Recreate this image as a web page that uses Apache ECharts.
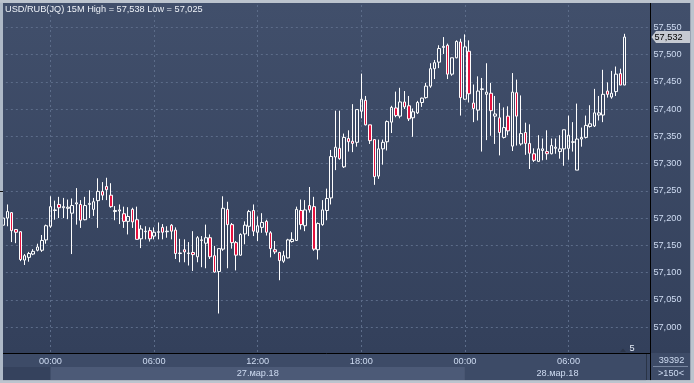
<!DOCTYPE html>
<html><head><meta charset="utf-8">
<script src="https://cdn.jsdelivr.net/npm/echarts@6/dist/echarts.min.js"></script>
<style>html,body{margin:0;padding:0;background:#b6bec9;overflow:hidden}#c{width:694px;height:383px}</style>
</head><body><div id="c"></div>
<script>
const symbolName = 'USD/RUB(JQ) 15M';
const opens = [57.187,57.200,57.210,57.179,57.175,57.123,57.128,57.134,57.141,57.141,57.160,57.185,57.214,57.225,57.219,57.218,57.209,57.226,57.225,57.197,
57.225,57.216,57.232,57.249,57.258,57.242,57.212,57.213,57.208,57.194,57.216,57.197,57.162,57.175,57.177,57.167,57.174,57.183,57.175,57.187,
57.178,57.135,57.142,57.135,57.137,57.129,57.159,57.154,57.164,57.131,57.102,57.143,57.216,57.188,57.155,57.132,57.171,57.185,57.214,57.174,
57.183,57.194,57.173,57.142,57.137,57.121,57.127,57.157,57.159,57.214,57.186,57.223,57.221,57.142,57.188,57.214,57.237,57.312,57.328,57.294,
57.346,57.341,57.339,57.396,57.416,57.371,57.344,57.277,57.327,57.340,57.376,57.402,57.387,57.413,57.406,57.384,57.393,57.412,57.421,57.442,
57.474,57.486,57.513,57.517,57.464,57.494,57.523,57.418,57.506,57.411,57.398,57.436,57.427,57.429,57.387,57.384,57.348,57.387,57.332,57.430,
57.336,57.357,57.337,57.318,57.304,57.324,57.322,57.318,57.328,57.322,57.327,57.328,57.339,57.288,57.345,57.348,57.368,57.369,57.389,57.389,
57.433,57.422,57.432,57.465,57.444];
const closes = [57.200,57.212,57.177,57.174,57.124,57.131,57.135,57.139,57.147,57.159,57.186,57.221,57.215,57.219,57.221,57.220,57.223,57.228,57.196,57.223,
57.227,57.230,57.249,57.242,57.252,57.221,57.214,57.215,57.194,57.203,57.193,57.161,57.180,57.176,57.162,57.174,57.175,57.174,57.176,57.176,
57.135,57.136,57.138,57.136,57.133,57.164,57.160,57.164,57.129,57.101,57.144,57.218,57.188,57.155,57.132,57.170,57.187,57.212,57.176,57.186,
57.192,57.174,57.144,57.138,57.122,57.131,57.160,57.161,57.216,57.188,57.215,57.215,57.143,57.190,57.215,57.236,57.313,57.330,57.309,57.348,
57.340,57.337,57.399,57.418,57.371,57.342,57.276,57.327,57.339,57.377,57.403,57.388,57.413,57.404,57.382,57.395,57.412,57.420,57.442,57.474,
57.485,57.511,57.515,57.464,57.494,57.524,57.421,57.514,57.428,57.401,57.433,57.437,57.431,57.397,57.391,57.357,57.366,57.360,57.431,57.387,
57.355,57.337,57.319,57.306,57.327,57.327,57.318,57.333,57.330,57.327,57.362,57.352,57.340,57.345,57.348,57.370,57.373,57.393,57.393,57.427,
57.427,57.429,57.464,57.444,57.532];
const lows = [57.177,57.185,57.156,57.154,57.121,57.114,57.120,57.132,57.139,57.138,57.153,57.182,57.197,57.200,57.200,57.198,57.134,57.188,57.182,57.196,
57.200,57.204,57.182,57.233,57.233,57.219,57.196,57.189,57.182,57.170,57.182,57.161,57.145,57.161,57.157,57.161,57.161,57.161,57.164,57.161,
57.125,57.119,57.119,57.113,57.103,57.119,57.110,57.108,57.125,57.100,57.025,57.140,57.108,57.144,57.104,57.131,57.152,57.167,57.167,57.158,
57.173,57.168,57.128,57.134,57.086,57.118,57.126,57.155,57.158,57.179,57.176,57.210,57.140,57.124,57.186,57.196,57.225,57.288,57.307,57.292,
57.322,57.321,57.331,57.383,57.370,57.336,57.261,57.272,57.298,57.324,57.356,57.385,57.383,57.400,57.378,57.349,57.391,57.404,57.419,57.439,
57.455,57.475,57.501,57.455,57.461,57.493,57.388,57.417,57.412,57.376,57.379,57.322,57.343,57.351,57.336,57.315,57.346,57.352,57.323,57.333,
57.333,57.316,57.290,57.303,57.304,57.306,57.307,57.317,57.318,57.309,57.296,57.307,57.322,57.288,57.331,57.346,57.366,57.367,57.379,57.376,
57.421,57.419,57.424,57.444,57.444];
const highs = [57.203,57.225,57.211,57.179,57.176,57.134,57.138,57.143,57.153,57.169,57.188,57.240,57.232,57.239,57.237,57.234,57.236,57.255,57.233,57.239,
57.251,57.237,57.273,57.266,57.274,57.264,57.222,57.225,57.221,57.220,57.219,57.221,57.187,57.185,57.183,57.183,57.192,57.189,57.185,57.189,
57.183,57.162,57.161,57.156,57.176,57.167,57.167,57.188,57.170,57.149,57.144,57.240,57.230,57.191,57.158,57.172,57.194,57.215,57.225,57.203,
57.209,57.197,57.176,57.158,57.138,57.140,57.162,57.174,57.221,57.234,57.233,57.257,57.239,57.192,57.233,57.254,57.325,57.397,57.397,57.355,
57.361,57.409,57.399,57.465,57.424,57.371,57.344,57.344,57.344,57.379,57.406,57.432,57.439,57.433,57.424,57.401,57.415,57.421,57.448,57.484,
57.490,57.517,57.532,57.520,57.494,57.526,57.529,57.537,57.526,57.445,57.460,57.457,57.484,57.448,57.424,57.411,57.403,57.405,57.466,57.454,
57.425,57.375,57.372,57.328,57.352,57.346,57.361,57.346,57.346,57.352,57.362,57.388,57.376,57.410,57.366,57.388,57.407,57.437,57.424,57.472,
57.449,57.470,57.478,57.474,57.538];
// time axis: 15-minute bars, first slot 26.03 21:15, 150 slots shown
const firstSlotMinutes = 21 * 60 + 15;
const firstSlotDay = 26;
const slotCount = 150;
const barMinutes = 15;
const timeLabels = ['00:00', '06:00', '12:00', '18:00'];
const dayLabels = ['27.мар.18', '28.мар.18'];
const dayStartSlot = [11, 107];
const yMin = 56.95, yMax = 57.60, yStep = 0.05;
const volumeText = '39392';
const barsText = '>150<';
const scaleText = '5';

const pad = n => (n < 10 ? '0' : '') + n;
const categories = [];
for (let i = 0; i < slotCount; i++) {
  const m = firstSlotMinutes + barMinutes * i;
  const d = firstSlotDay + Math.floor(m / 1440);
  const mm = m % 1440;
  categories.push(d + '.03 ' + pad(Math.floor(mm / 60)) + ':' + pad(mm % 60));
}
const candleData = opens.map((o, i) => [o, closes[i], lows[i], highs[i]]);
const fmt = v => v.toFixed(3).replace('.', ',');
const FONT = "'Liberation Sans', Arial, sans-serif";
const FS = 9.2;
const labelColor = '#cfdcf2';
const isTimeLabel = (idx, val) => timeLabels.indexOf(String(val).slice(-5)) >= 0;

const chart = echarts.init(document.getElementById('c'), null, {renderer: 'canvas', width: 694, height: 383});
chart.setOption({
  animation: false,
  grid: {left: 0.84, right: 45.6, top: -8.2, bottom: 28.6, containLabel: false},
  xAxis: [{
    type: 'category', data: categories, boundaryGap: true,
    axisLine: {show: false}, axisTick: {show: false}, axisLabel: {show: false},
    splitLine: {show: true, interval: isTimeLabel, alignWithLabel: true,
      lineStyle: {color: '#5c6c89', type: [2, 3], width: 1}}
  }, {
    type: 'category', data: categories, boundaryGap: true, position: 'bottom', z: 10,
    axisLine: {show: false}, axisTick: {show: false}, splitLine: {show: false},
    axisLabel: {show: true, interval: isTimeLabel, margin: 2.5, color: labelColor,
      fontSize: FS, fontFamily: FONT, formatter: v => v.slice(-5)}
  }],
  yAxis: {
    type: 'value', position: 'right', min: yMin, max: yMax, interval: yStep,
    axisLine: {show: false}, axisTick: {show: false},
    axisLabel: {margin: 5, color: labelColor, fontSize: FS, fontFamily: FONT,
      showMinLabel: false, showMaxLabel: false, formatter: v => fmt(v)},
    splitLine: {show: true, lineStyle: {color: '#5c6c89', type: [2, 3], width: 1}}
  },
  series: [{
    type: 'candlestick', xAxisIndex: 0, yAxisIndex: 0, data: candleData, barWidth: 3,
    itemStyle: {color: 'rgba(0,0,0,0)', color0: '#e5113e', borderColor: '#ffffff',
      borderColor0: '#ffffff', borderColorDoji: '#ffffff', borderWidth: 1},
    emphasis: {disabled: true}, silent: true
  }]
});

const px = i => chart.convertToPixel({xAxisIndex: 0}, i);
const py = v => chart.convertToPixel({yAxisIndex: 0}, v);
const bgGrad = {type: 'linear', x: 0, y: 0, x2: 0, y2: 1, global: false,
  colorStops: [{offset: 0, color: '#414f6b'}, {offset: 1, color: '#33405b'}]};
const hi = Math.max.apply(null, highs), lo = Math.min.apply(null, lows);
const lastClose = closes[closes.length - 1];
const ly = py(lastClose);
const d0 = px(dayStartSlot[0]), d1 = px(dayStartSlot[1]);
const g = [];
g.push({type: 'rect', z: -10, silent: true, shape: {x: 3, y: 3, width: 647, height: 350}, style: {fill: bgGrad}});
g.push({type: 'rect', z: -10, silent: true, shape: {x: 650, y: 3, width: 40.5, height: 350}, style: {fill: bgGrad}});
// bottom panel
g.push({type: 'rect', z: 5, silent: true, shape: {x: 3, y: 353, width: 687.5, height: 27.3}, style: {fill: '#3d4b67'}});
g.push({type: 'rect', z: 5, silent: true, shape: {x: 3, y: 367, width: 643, height: 13.3}, style: {fill: '#35425d'}});
g.push({type: 'rect', z: 5, silent: true, shape: {x: d0, y: 367, width: d1 - d0, height: 13.3}, style: {fill: '#4c5a77'}});
g.push({type: 'rect', z: 5, silent: true, shape: {x: d1, y: 367, width: 646 - d1, height: 13.3}, style: {fill: '#3d4b67'}});
g.push({type: 'line', z: 6, silent: true, shape: {x1: 646.5, y1: 354, x2: 646.5, y2: 380}, style: {stroke: '#2a3446', lineWidth: 1}});
g.push({type: 'text', z: 6, silent: true, style: {x: (d0 + d1) / 2, y: 373.5, text: dayLabels[0], fill: labelColor, font: FS + 'px ' + FONT, align: 'center', verticalAlign: 'middle'}});
g.push({type: 'text', z: 6, silent: true, style: {x: (d1 + 650) / 2, y: 373.5, text: dayLabels[1], fill: labelColor, font: FS + 'px ' + FONT, align: 'center', verticalAlign: 'middle'}});
// frame lines
g.push({type: 'line', z: 6, silent: true, shape: {x1: 3, y1: 353.5, x2: 650, y2: 353.5}, style: {stroke: '#000', lineWidth: 1}});
g.push({type: 'line', z: 6, silent: true, shape: {x1: 650.5, y1: 3, x2: 650.5, y2: 380.3}, style: {stroke: '#000', lineWidth: 1}});
// right bottom info
g.push({type: 'text', z: 6, silent: true, style: {x: 671.5, y: 360.5, text: volumeText, fill: labelColor, font: FS + 'px ' + FONT, align: 'center', verticalAlign: 'middle'}});
g.push({type: 'line', z: 6, silent: true, shape: {x1: 653, y1: 366.5, x2: 688, y2: 366.5}, style: {stroke: '#7886a0', lineWidth: 1}});
g.push({type: 'text', z: 6, silent: true, style: {x: 671, y: 373, text: barsText, fill: labelColor, font: FS + 'px ' + FONT, align: 'center', verticalAlign: 'middle'}});
// scale marker
g.push({type: 'polygon', z: 6, silent: true, shape: {points: [[620, 352], [623, 348.5], [626, 352]]}, style: {fill: '#2b3549'}});
g.push({type: 'text', z: 6, silent: true, style: {x: 632, y: 348.5, text: scaleText, fill: '#e6ecf6', font: FS + 'px ' + FONT, align: 'center', verticalAlign: 'middle'}});
// last price tag
g.push({type: 'polygon', z: 7, silent: true, shape: {points: [[651.5, ly], [656, ly - 6], [690, ly - 6], [690, ly + 6], [656, ly + 6]]}, style: {fill: '#c6cad2'}});
g.push({type: 'text', z: 8, silent: true, style: {x: 654.5, y: ly, text: fmt(lastClose), fill: '#000', font: FS + 'px ' + FONT, align: 'left', verticalAlign: 'middle'}});
// title
g.push({type: 'text', z: 8, silent: true, style: {x: 5, y: 9.5, text: symbolName + ' High = ' + fmt(hi) + ' Low = ' + fmt(lo), fill: '#eef2f8', font: FS + 'px ' + FONT, align: 'left', verticalAlign: 'middle'}});
// outer frame strips
g.push({type: 'rect', z: 20, silent: true, shape: {x: 0, y: 0, width: 3, height: 383}, style: {fill: '#aeb9c7'}});
g.push({type: 'rect', z: 20, silent: true, shape: {x: 0, y: 0, width: 694, height: 2.7}, style: {fill: '#bcc4ce'}});
g.push({type: 'rect', z: 20, silent: true, shape: {x: 690.5, y: 0, width: 4, height: 383}, style: {fill: '#bcc4ce'}});
g.push({type: 'rect', z: 20, silent: true, shape: {x: 0, y: 380.3, width: 694, height: 3}, style: {fill: '#bcc4ce'}});
g.push({type: 'line', z: 21, silent: true, shape: {x1: 0, y1: 191.5, x2: 3, y2: 191.5}, style: {stroke: '#111', lineWidth: 1}});
chart.setOption({graphic: {elements: g}});
</script>
</body></html>
